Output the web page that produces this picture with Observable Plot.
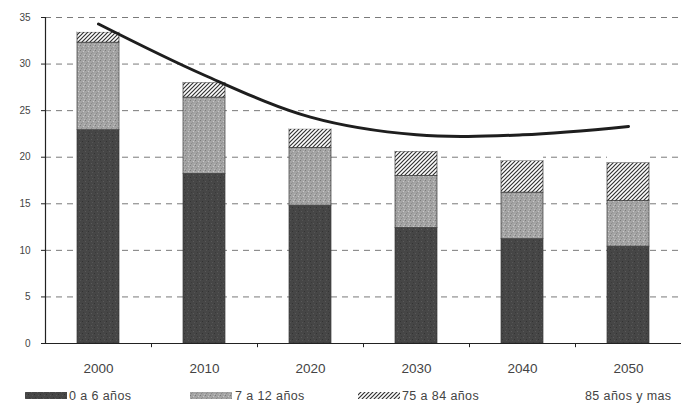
<!DOCTYPE html>
<html>
<head>
<meta charset="utf-8">
<script src="https://cdn.jsdelivr.net/npm/d3@7"></script>
<script src="https://cdn.jsdelivr.net/npm/@observablehq/plot@0.6"></script>
<style>
  html, body { margin: 0; padding: 0; background: #fff; }
  #wrap { width: 681px; height: 412px; position: relative; font-family: "Liberation Sans", Arial, sans-serif; }
  #legend { display: block; }
</style>
</head>
<body>
<svg width="0" height="0" style="position:absolute">
  <defs>
    <pattern id="pDark" width="6" height="6" patternUnits="userSpaceOnUse">
      <rect width="6" height="6" fill="#464646"/>
      <rect x="1" y="1" width="1" height="1" fill="#5a5a5a"/>
      <rect x="4" y="3" width="1" height="1" fill="#333"/>
      <rect x="2" y="4" width="1" height="1" fill="#555"/>
      <rect x="5" y="0" width="1" height="1" fill="#3a3a3a"/>
    </pattern>
    <pattern id="pMid" width="5" height="5" patternUnits="userSpaceOnUse">
      <rect width="5" height="5" fill="#a4a4a4"/>
      <rect x="0" y="0" width="1" height="1" fill="#7c7c7c"/>
      <rect x="3" y="1" width="1" height="1" fill="#c9c9c9"/>
      <rect x="1" y="3" width="1" height="1" fill="#8a8a8a"/>
      <rect x="4" y="4" width="1" height="1" fill="#bdbdbd"/>
      <rect x="2" y="2" width="1" height="1" fill="#939393"/>
    </pattern>
    <pattern id="pHatch" width="4" height="4" patternUnits="userSpaceOnUse">
      <rect width="4" height="4" fill="#fff"/>
      <path d="M-1,1 l2,-2 M0,4 l4,-4 M3,5 l2,-2" stroke="#333" stroke-width="1.2"/>
    </pattern>
  </defs>
</svg>
<div id="wrap"></div>
<script>
const years = ["2000", "2010", "2020", "2030", "2040", "2050"];
const seriesNames = ["0 a 6 años", "7 a 12 años", "75 a 84 años", "85 años y mas"];
const age0to6 = [22.9, 18.2, 14.8, 12.4, 11.2, 10.4];
const age7to12 = [9.4, 8.2, 6.2, 5.6, 5.0, 4.9];
const age75to84 = [1.1, 1.6, 2.0, 2.6, 3.4, 4.1];
const age85plus = [0.9, 0.8, 1.3, 1.8, 2.8, 3.9];
const total = [34.3, 28.8, 24.3, 22.4, 22.4, 23.3];
const yTicks = [0, 5, 10, 15, 20, 25, 30, 35];
const fills = ["url(#pDark)", "url(#pMid)", "url(#pHatch)", "#ffffff"];

const seriesValues = [age0to6, age7to12, age75to84, age85plus];
const rows = years.flatMap((year, i) =>
  seriesNames.map((s, k) => ({year, series: s, value: seriesValues[k][i]})));
const lineRows = years.map((year, i) => ({year, total: total[i]}));

const W = 681, H = 385, mL = 45, mR = 0;
const halfStep = (W - mL - mR) / years.length / 2;

const chart = Plot.plot({
  width: W,
  height: H,
  marginLeft: mL,
  marginRight: mR,
  marginTop: 17,
  marginBottom: 42,
  style: {fontFamily: "'Liberation Sans', Arial, sans-serif", color: "#444", background: "#fff"},
  x: {domain: years, paddingInner: 0.6, paddingOuter: 0.3, label: null, axis: null},
  y: {domain: [0, 35], label: null, axis: null},
  color: {domain: seriesNames, range: fills},
  marks: [
    Plot.ruleY(yTicks.filter(d => d > 0), {stroke: "#7a7a7a", strokeWidth: 1, strokeDasharray: "6,5"}),
    Plot.barY(rows, {x: "year", y: "value", fill: "series", stroke: d => d.series === seriesNames[3] ? "none" : "#3a3a3a", strokeWidth: 0.7}),
    Plot.line(lineRows, {x: "year", y: "total", curve: "catmull-rom", stroke: "#1e1e1e", strokeWidth: 3}),
    Plot.ruleY([0], {stroke: "#222", strokeWidth: 1.2}),
    Plot.ruleX(years.slice(0, -1), {y1: 0, y2: -0.45, dx: halfStep, stroke: "#222"}),
    Plot.axisY({ticks: yTicks, tickSize: 4, tickPadding: 11, fontSize: 10, tickFormat: d => String(d), stroke: "#222", color: "#444"}),
    Plot.axisX({tickSize: 0, tickPadding: 20, fontSize: 13.5, color: "#444"}),
    Plot.frame({anchor: "left", stroke: "#222", strokeWidth: 1.2})
  ]
});
document.getElementById("wrap").appendChild(chart);

// legend below the chart
const legendItems = [
  {label: seriesNames[0], fill: fills[0], sx: 25, tx: 69},
  {label: seriesNames[1], fill: fills[1], sx: 190, tx: 235},
  {label: seriesNames[2], fill: fills[2], sx: 358, tx: 402},
  {label: seriesNames[3], fill: fills[3], sx: 541, tx: 585}
];
const ns = "http://www.w3.org/2000/svg";
const leg = document.createElementNS(ns, "svg");
leg.setAttribute("id", "legend");
leg.setAttribute("width", W);
leg.setAttribute("height", 27);
for (const it of legendItems) {
  const r = document.createElementNS(ns, "rect");
  r.setAttribute("x", it.sx); r.setAttribute("y", 7);
  r.setAttribute("width", 42); r.setAttribute("height", 7);
  r.setAttribute("fill", it.fill);
  leg.appendChild(r);
  const t = document.createElementNS(ns, "text");
  t.setAttribute("x", it.tx); t.setAttribute("y", 15);
  t.setAttribute("font-size", "12.5");
  t.setAttribute("letter-spacing", "0.4");
  t.setAttribute("fill", "#444");
  t.setAttribute("font-family", "'Liberation Sans', Arial, sans-serif");
  t.textContent = it.label;
  leg.appendChild(t);
}
document.getElementById("wrap").appendChild(leg);
</script>
</body>
</html>
